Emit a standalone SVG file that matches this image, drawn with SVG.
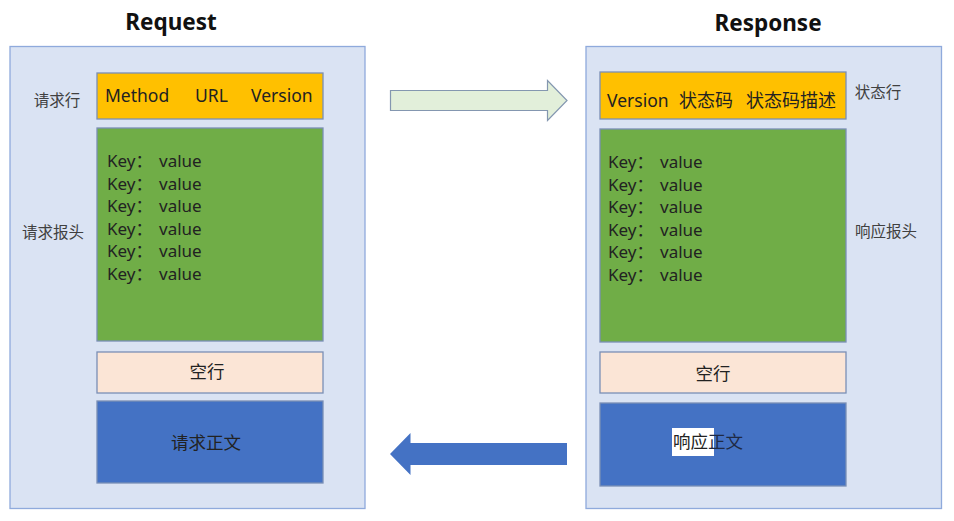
<svg xmlns="http://www.w3.org/2000/svg" width="954" height="521" viewBox="0 0 954 521">
<style>
text{font-family:"Noto Sans","Noto Sans CJK SC",sans-serif;fill:#222}
.title{font-size:22.5px;font-weight:bold;fill:#111}
.cont{fill:#DAE3F3;stroke:#8FAADC;stroke-width:1.3}
.box{stroke:#7A8FB5;stroke-width:1.3}
.org{fill:#FFC000}
.grn{fill:#70AD47}
.pch{fill:#FBE5D6}
.blu{fill:#4472C4}
.t{font-size:17.5px}
.lab{font-size:15.5px;fill:#404040}
.kv{font-size:17px;fill:#222}
</style>
<rect width="954" height="521" fill="#fff"/>
<g id="request">
<text class="title" x="171" y="30" text-anchor="middle">Request</text>
<rect class="cont" x="10" y="46.5" width="355" height="462"/>
<g id="req-line">
<text class="lab" x="57" y="106" text-anchor="middle">请求行</text>
<rect class="box org" x="97" y="73" width="226" height="46"/>
<text class="t" y="102"><tspan x="105">Method</tspan><tspan x="195">URL</tspan><tspan x="251">Version</tspan></text>
</g>
<g id="req-header">
<text class="lab" x="53" y="238" text-anchor="middle">请求报头</text>
<rect class="box grn" x="97" y="128" width="226" height="213"/>
<text class="kv" y="167"><tspan x="107">Key：</tspan><tspan x="159">value</tspan></text>
<text class="kv" y="189.5"><tspan x="107">Key：</tspan><tspan x="159">value</tspan></text>
<text class="kv" y="212"><tspan x="107">Key：</tspan><tspan x="159">value</tspan></text>
<text class="kv" y="234.5"><tspan x="107">Key：</tspan><tspan x="159">value</tspan></text>
<text class="kv" y="257"><tspan x="107">Key：</tspan><tspan x="159">value</tspan></text>
<text class="kv" y="279.5"><tspan x="107">Key：</tspan><tspan x="159">value</tspan></text>
</g>
<g id="req-blank">
<rect class="box pch" x="97" y="352" width="226" height="41"/>
<text class="t" x="207" y="378" text-anchor="middle" fill="#333">空行</text>
</g>
<g id="req-body">
<rect class="box blu" x="97" y="401" width="226" height="82"/>
<text class="t" x="206" y="449" text-anchor="middle">请求正文</text>
</g>
</g>
<g id="response">
<text class="title" x="768" y="31" text-anchor="middle">Response</text>
<rect class="cont" x="586" y="46.5" width="355.5" height="462"/>
<g id="resp-line">
<rect class="box org" x="600" y="72" width="246" height="47"/>
<text class="t" y="107"><tspan x="607">Version</tspan><tspan x="679" font-size="18">状态码</tspan><tspan x="746" font-size="18">状态码描述</tspan></text>
<text class="lab" x="878" y="98" text-anchor="middle">状态行</text>
</g>
<g id="resp-header">
<rect class="box grn" x="600" y="129" width="246" height="213"/>
<text class="kv" y="168"><tspan x="608">Key：</tspan><tspan x="660">value</tspan></text>
<text class="kv" y="190.5"><tspan x="608">Key：</tspan><tspan x="660">value</tspan></text>
<text class="kv" y="213"><tspan x="608">Key：</tspan><tspan x="660">value</tspan></text>
<text class="kv" y="235.5"><tspan x="608">Key：</tspan><tspan x="660">value</tspan></text>
<text class="kv" y="258"><tspan x="608">Key：</tspan><tspan x="660">value</tspan></text>
<text class="kv" y="280.5"><tspan x="608">Key：</tspan><tspan x="660">value</tspan></text>
<text class="lab" x="886" y="237" text-anchor="middle">响应报头</text>
</g>
<g id="resp-blank">
<rect class="box pch" x="600" y="352" width="246" height="41"/>
<text class="t" x="713" y="380" text-anchor="middle" fill="#333">空行</text>
</g>
<g id="resp-body">
<rect class="box blu" x="600" y="403" width="246" height="83"/>
<rect x="672" y="428" width="42" height="28" fill="#fff"/>
<text class="t" x="673" y="448" fill="#000">响应<tspan fill="#1f2a44">正文</tspan></text>
</g>
</g>
<g id="connectors">
<path d="M390.5 90.5 H547.5 V80.5 L567 100.5 L547.5 120.5 V110.5 H390.5 Z" fill="#E2EFDA" stroke="#8497B0" stroke-width="1.2"/>
<path d="M567 443 H410.5 V433 L390 454 L410.5 475 V465 H567 Z" fill="#4472C4"/>
</g>
</svg>
